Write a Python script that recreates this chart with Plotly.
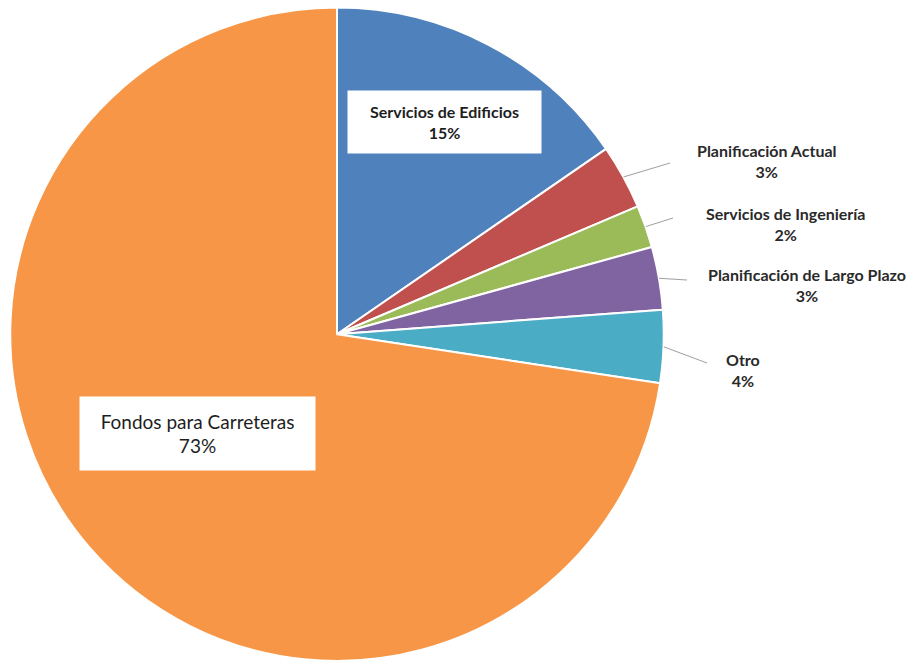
import math
import plotly.graph_objects as go

# Data
categories = ["Servicios de Edificios", "Planificación Actual", "Servicios de Ingeniería",
              "Planificación de Largo Plazo", "Otro", "Fondos para Carreteras"]
values = [15.4, 3.2, 2.1, 3.1, 3.6, 72.6]
colors = ["#4F81BD", "#C0504D", "#9BBB59", "#8064A2", "#4BACC6", "#F79646"]

W, H = 911, 661
cx, cy, R = 337, 334.5, 327

fig = go.Figure(go.Pie(
    labels=categories,
    values=values,
    sort=False,
    direction="clockwise",
    rotation=0,
    marker=dict(colors=colors, line=dict(color="white", width=2)),
    textinfo="none",
    hoverinfo="label+percent",
    domain=dict(x=[(cx - R) / W, (cx + R) / W], y=[0, 1 - (cy - R) / H]),
    showlegend=False,
))

total = sum(values)
pct = [round(v / total * 100) for v in values]

def px2paper(x, y):
    return x / W, 1 - y / H

annotations = []
shapes = []
FONT = "Lato, Calibri, sans-serif"

# Inside labels with white boxes
inside = {0: dict(x=444.5, y=122, w=193, h=62, size=16, bold=True),
          5: dict(x=197.5, y=433.5, w=235, h=73, size=19, bold=False)}
for i, s in inside.items():
    xp, yp = px2paper(s["x"], s["y"])
    t = f"{categories[i]}<br>{pct[i]}%"
    if s["bold"]:
        t = f"<b>{t}</b>"
    annotations.append(dict(x=xp, y=yp, xref="paper", yref="paper", text=t,
                            xanchor="center", yanchor="middle",
                            showarrow=False, bgcolor="white", width=s["w"], height=s["h"],
                            borderpad=0, align="center",
                            font=dict(family=FONT, size=s["size"], color="#1e1e1e")))

# Outside labels with leader lines
outside = {1: dict(tx=767, ty=161, ex=670, ey=163),
           2: dict(tx=785, ty=224, ex=673, ey=218),
           3: dict(tx=807, ty=285, ex=687, ey=280),
           4: dict(tx=743, ty=370, ex=707, ey=363)}
cum = 0
mids = []
for v in values:
    mids.append(2 * math.pi * (cum + v / 2) / total)
    cum += v
for i, s in outside.items():
    th = mids[i]
    sx, sy = cx + R * math.sin(th), cy - R * math.cos(th)
    x0, y0 = px2paper(sx, sy)
    x1, y1 = px2paper(s["ex"], s["ey"])
    shapes.append(dict(type="line", xref="paper", yref="paper", x0=x0, y0=y0, x1=x1, y1=y1,
                       line=dict(color="#A0A0A0", width=1)))
    xp, yp = px2paper(s["tx"], s["ty"])
    annotations.append(dict(x=xp, y=yp, xref="paper", yref="paper",
                            xanchor="center", yanchor="middle",
                            text=f"<b>{categories[i]}<br>{pct[i]}%</b>",
                            showarrow=False, align="center",
                            font=dict(family=FONT, size=16, color="#2a2a2a")))

fig.update_layout(width=W, height=H, margin=dict(l=0, r=0, t=0, b=0),
                  paper_bgcolor="white", plot_bgcolor="white",
                  annotations=annotations, shapes=shapes)

fig.write_html("out.html", config={"displayModeBar": False},
               post_script="document.body.style.margin='0';document.body.style.overflow='hidden';")
